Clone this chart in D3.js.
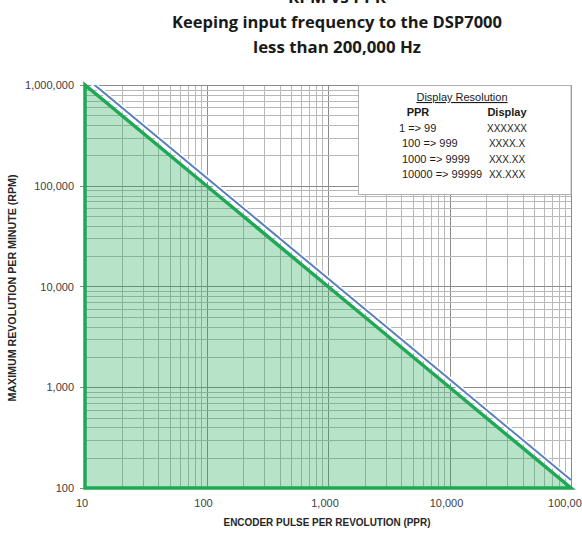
<!DOCTYPE html>
<html>
<head>
<meta charset="utf-8">
<script src="https://d3js.org/d3.v7.min.js"></script>
<style>
  html, body { margin: 0; padding: 0; background: #ffffff; overflow: hidden; }
</style>
</head>
<body>
<div id="chart"></div>
<script>
// data
var ppr = [10, 100, 1000, 10000, 100000]
var maxRpm = [1000000, 100000, 10000, 1000, 100]          // green, shaded
var limitRpm = [1200000, 120000, 12000, 1200, 120]        // blue, 200,000 Hz limit
var xTickLabels = ["10", "100", "1,000", "10,000", "100,000"]
var yTickValues = [100, 1000, 10000, 100000, 1000000]
var yTickLabels = ["100", "1,000", "10,000", "100,000", "1,000,000"]
var titleLines = ["RPM vs PPR", "Keeping input frequency to the DSP7000", "less than 200,000 Hz"]
var legendPpr = ["1 => 99", "100 => 999", "1000 => 9999", "10000 => 99999"]
var legendDisplay = ["XXXXXX", "XXXX.X", "XXX.XX", "XX.XXX"]

var width = 582
var height = 534
// plot box (note: "top" is taken by window.top, so prefix these)
var pLeft = 85, pRight = 571, pTop = 85, pBottom = 488
var green = "#1fa855"
var blue = "#5a7fc0"

var svg = d3.select("#chart")
            .append("svg")
            .attr("width", width)
            .attr("height", height)

svg.append("rect")
   .attr("width", width)
   .attr("height", height)
   .attr("fill", "#ffffff")

var x = d3.scaleLog().domain([ppr[0], ppr[ppr.length - 1]]).range([pLeft, pRight])
var y = d3.scaleLog().domain([yTickValues[0], yTickValues[yTickValues.length - 1]]).range([pBottom, pTop])

function isMajor(v) {
  return Math.abs(Math.log10(v) - Math.round(Math.log10(v))) < 1e-9
}

// grid
var grid = svg.append("g")
grid.selectAll("line.vx")
    .data(x.ticks())
    .enter().append("line")
    .attr("class", "vx")
    .attr("x1", d => Math.round(x(d)) + 0.5)
    .attr("x2", d => Math.round(x(d)) + 0.5)
    .attr("y1", pTop)
    .attr("y2", pBottom)
    .attr("stroke", d => isMajor(d) ? "#8a8a8a" : "#b8b8b8")
    .attr("stroke-width", 1)

grid.selectAll("line.hy")
    .data(y.ticks())
    .enter().append("line")
    .attr("class", "hy")
    .attr("x1", pLeft)
    .attr("x2", pRight)
    .attr("y1", d => Math.round(y(d)) + 0.5)
    .attr("y2", d => Math.round(y(d)) + 0.5)
    .attr("stroke", d => isMajor(d) ? "#8a8a8a" : "#b8b8b8")
    .attr("stroke-width", 1)

// y axis tick marks
svg.selectAll("line.ytick")
   .data(yTickValues)
   .enter().append("line")
   .attr("class", "ytick")
   .attr("x1", pLeft - 5)
   .attr("x2", pLeft)
   .attr("y1", d => Math.round(y(d)) + 0.5)
   .attr("y2", d => Math.round(y(d)) + 0.5)
   .attr("stroke", "#8a8a8a")

// legend box sits on top of the grid
var legend = svg.append("g")
legend.append("rect")
      .attr("x", 358.5)
      .attr("y", pTop + 0.5)
      .attr("width", pRight - 358.5)
      .attr("height", 109)
      .attr("fill", "#ffffff")
      .attr("stroke", "#b0b0b0")

legend.append("text")
      .attr("x", 462)
      .attr("y", 101)
      .attr("text-anchor", "middle")
      .attr("font-family", "Liberation Sans, Arial, sans-serif")
      .attr("font-size", 11)
      .attr("text-decoration", "underline")
      .attr("fill", "#1a1a1a")
      .text("Display Resolution")

legend.append("text")
      .attr("x", 418)
      .attr("y", 116)
      .attr("text-anchor", "middle")
      .attr("font-family", "Liberation Sans, Arial, sans-serif")
      .attr("font-size", 11)
      .attr("font-weight", "bold")
      .attr("fill", "#1a1a1a")
      .text("PPR")

legend.append("text")
      .attr("x", 507)
      .attr("y", 116)
      .attr("text-anchor", "middle")
      .attr("font-family", "Liberation Sans, Arial, sans-serif")
      .attr("font-size", 11)
      .attr("font-weight", "bold")
      .attr("fill", "#1a1a1a")
      .text("Display")

legend.selectAll("text.lp")
      .data(legendPpr)
      .enter().append("text")
      .attr("class", "lp")
      .attr("x", (d, i) => i == 0 ? 399 : 402)
      .attr("y", (d, i) => 132 + i * 15.3)
      .attr("font-family", "Liberation Sans, Arial, sans-serif")
      .attr("font-size", 11)
      .attr("fill", "#1a1a1a")
      .text(d => d)

legend.selectAll("text.ld")
      .data(legendDisplay)
      .enter().append("text")
      .attr("class", "ld")
      .attr("x", 507)
      .attr("y", (d, i) => 132 + i * 15.3)
      .attr("text-anchor", "middle")
      .attr("font-family", "Liberation Sans, Arial, sans-serif")
      .attr("font-size", 10)
      .attr("fill", "#1a1a1a")
      .text(d => d)

// clip for the lines
svg.append("defs")
   .append("clipPath")
   .attr("id", "plot")
   .append("rect")
   .attr("x", pLeft)
   .attr("y", pTop)
   .attr("width", pRight - pLeft)
   .attr("height", pBottom - pTop)

var line = d3.line()
             .x(d => x(d[0]))
             .y(d => y(d[1]))

// blue limit line with white edge
var limitPts = ppr.map((p, i) => [p, limitRpm[i]])
svg.append("path")
   .attr("d", line(limitPts))
   .attr("clip-path", "url(#plot)")
   .attr("fill", "none")
   .attr("stroke", "#ffffff")
   .attr("stroke-width", 5)
svg.append("path")
   .attr("d", line(limitPts))
   .attr("clip-path", "url(#plot)")
   .attr("fill", "none")
   .attr("stroke", blue)
   .attr("stroke-width", 2)

// green shaded triangle
var areaPts = [[ppr[0], yTickValues[0]]].concat(ppr.map((p, i) => [p, maxRpm[i]]))
svg.append("path")
   .attr("d", line(areaPts) + "Z")
   .attr("fill", green)
   .attr("fill-opacity", 0.32)
   .attr("stroke", green)
   .attr("stroke-width", 3.5)
   .attr("stroke-linejoin", "miter")

// tick labels
svg.selectAll("text.xl")
   .data(ppr)
   .enter().append("text")
   .attr("class", "xl")
   .attr("x", d => x(d) - 3)
   .attr("y", 507)
   .attr("text-anchor", "middle")
   .attr("font-family", "Liberation Sans, Arial, sans-serif")
   .attr("font-size", 11)
   .attr("fill", "#404040")
   .text((d, i) => xTickLabels[i])

svg.selectAll("text.yl")
   .data(yTickValues)
   .enter().append("text")
   .attr("class", "yl")
   .attr("x", 74)
   .attr("y", d => y(d) + 4)
   .attr("text-anchor", "end")
   .attr("font-family", "Liberation Sans, Arial, sans-serif")
   .attr("font-size", 11)
   .attr("fill", "#404040")
   .text((d, i) => yTickLabels[i])

// titles
var titleWidths = [98, 330, 168]
svg.selectAll("text.title")
   .data(titleLines)
   .enter().append("text")
   .attr("class", "title")
   .attr("x", 337)
   .attr("y", (d, i) => 3 + i * 25)
   .attr("text-anchor", "middle")
   .attr("font-family", "Open Sans, sans-serif")
   .attr("font-weight", "bold")
   .attr("font-size", 16)
   .attr("textLength", (d, i) => titleWidths[i])
   .attr("lengthAdjust", "spacingAndGlyphs")
   .attr("fill", "#1a1a1a")
   .text(d => d)

svg.append("text")
   .attr("x", 327)
   .attr("y", 526)
   .attr("text-anchor", "middle")
   .attr("font-family", "Liberation Sans, Arial, sans-serif")
   .attr("font-weight", "bold")
   .attr("font-size", 11)
   .attr("textLength", 207)
   .attr("lengthAdjust", "spacingAndGlyphs")
   .attr("fill", "#262626")
   .text("ENCODER PULSE PER REVOLUTION (PPR)")

svg.append("text")
   .attr("transform", "translate(16," + 288 + ") rotate(-90)")
   .attr("text-anchor", "middle")
   .attr("font-family", "Liberation Sans, Arial, sans-serif")
   .attr("font-weight", "bold")
   .attr("font-size", 10)
   .attr("textLength", 227)
   .attr("lengthAdjust", "spacingAndGlyphs")
   .attr("fill", "#262626")
   .text("MAXIMUM REVOLUTION PER MINUTE (RPM)")
</script>
</body>
</html>
